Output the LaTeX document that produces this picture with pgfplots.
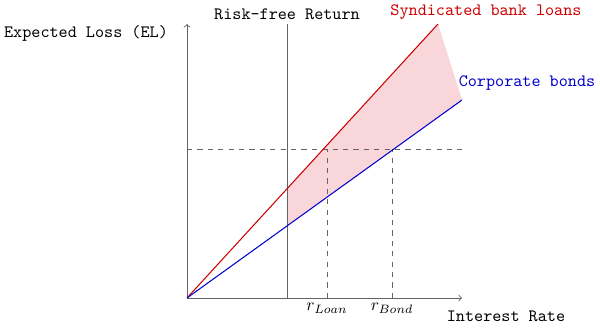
\documentclass[border=0pt]{standalone}
\usepackage{pgfplots}
\pgfplotsset{compat=1.18}
\definecolor{axgray}{RGB}{100,100,100}
\definecolor{lred}{RGB}{205,0,0}
\definecolor{lblue}{RGB}{0,0,205}
\definecolor{lpink}{RGB}{249,214,218}
\begin{document}
\begin{tikzpicture}
\begin{axis}[
  scale only axis, width=158.7pt, height=158.1pt,
  xmin=0, xmax=27.5, ymin=0, ymax=27.4,
  axis lines=left, ticks=none, clip=false,
  axis line style={axgray, line width=0.5pt, -to},
]
\addplot[fill=lpink, draw=none] coordinates {(10,10.92) (25.1,27.4) (27.5,19.8) (10,7.2)} -- cycle;
\addplot[axgray, line width=0.5pt] coordinates {(10,0) (10,27.4)};
\addplot[axgray, dashed, line width=0.5pt] coordinates {(0,14.9) (27.5,14.9)};
\addplot[axgray, dashed, line width=0.5pt] coordinates {(14.0,0) (14.0,14.9)};
\addplot[axgray, dashed, line width=0.5pt] coordinates {(20.5,0) (20.5,14.9)};
\addplot[lred, line width=0.6pt] coordinates {(0,0) (25.1,27.4)};
\addplot[lblue, line width=0.6pt] coordinates {(0,0) (27.5,19.8)};
\node[font=\ttfamily] at (axis cs:10,28.4) {Risk-free Return};
\node[font=\ttfamily, text=lred] at (axis cs:29.9,28.6) {Syndicated bank loans};
\node[font=\ttfamily, text=lblue] at (axis cs:34.0,21.5) {Corporate bonds};
\node[font=\ttfamily] at (axis cs:-10.1,26.5) {Expected Loss (EL)};
\node[font=\ttfamily] at (axis cs:31.9,-1.8) {Interest Rate};
\node at (axis cs:14.0,-1.05) {$r_{Loan}$};
\node at (axis cs:20.5,-1.05) {$r_{Bond}$};
\coordinate (bl) at (axis cs:-18.7,-3.1);
\coordinate (tr) at (axis cs:41.3,29.8);
\end{axis}
\pgfresetboundingbox
\path[use as bounding box] (bl) rectangle (tr);
\end{tikzpicture}
\end{document}
